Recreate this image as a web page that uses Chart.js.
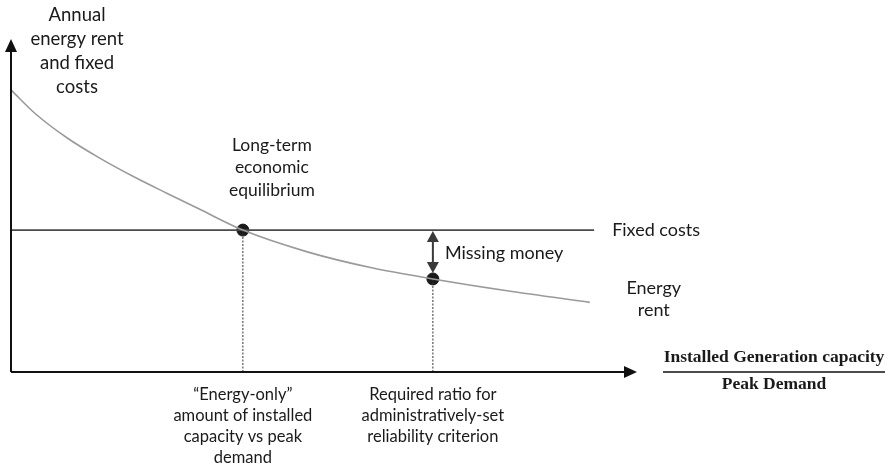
<!DOCTYPE html>
<html>
<head>
<meta charset="utf-8">
<script src="https://cdn.jsdelivr.net/npm/chart.js@4"></script>
<style>
  body { margin: 0; background: #fff; }
  #wrap { width: 889px; height: 464px; }
</style>
</head>
<body>
<div id="wrap"><canvas id="grafico" width="889" height="464"></canvas></div>
<script>
// curva de renta de energia (escala 0-100)
const rentaX = [0, 4, 9, 14.2, 19.5, 25, 30.2, 37.1, 47.4, 57.9, 67.5, 79.4, 92.6];
const rentaY = [85.5, 78.1, 70.9, 64.8, 59.3, 54.1, 49.3, 43, 36.4, 31.5, 28.2, 24.6, 21.1];
// costos fijos: nivel horizontal y largo
const costoFijo = 43;
const costoFijoFin = 93.3;
// puntos marcados
const equilibrioX = 37.1;
const confiabilidadX = 67.5;
const confiabilidadY = 28.2;

const etiquetaEjeY = ['Annual', 'energy rent', 'and fixed', 'costs'];
const etiquetaEquilibrio = ['Long-term', 'economic', 'equilibrium'];
const etiquetaEnergyOnly = ['\u201cEnergy-only\u201d', 'amount of installed', 'capacity vs peak', 'demand'];
const etiquetaRequerido = ['Required ratio for', 'administratively-set', 'reliability criterion'];
const etiquetaRenta = ['Energy', 'rent'];
const etiquetaFijo = 'Fixed costs';
const etiquetaFaltante = 'Missing money';
const etiquetaEjeXArriba = 'Installed Generation capacity';
const etiquetaEjeXAbajo = 'Peak Demand';

const fuente = px => px + 'px Lato, "Open Sans", sans-serif';
const COLOR_TEXTO = '#1a1a1a';

function lineas(ctx, textos, x, y, alto) {
    textos.forEach((t, i) => ctx.fillText(t, x, y + i * alto));
}

function flecha(ctx, x, y, dir, largo, ancho) {
    // punta de flecha rellena; dir: 'up' | 'down' | 'right'
    ctx.beginPath();
    if (dir === 'up') {
        ctx.moveTo(x, y); ctx.lineTo(x - ancho, y + largo); ctx.lineTo(x + ancho, y + largo);
    } else if (dir === 'down') {
        ctx.moveTo(x, y); ctx.lineTo(x - ancho, y - largo); ctx.lineTo(x + ancho, y - largo);
    } else {
        ctx.moveTo(x, y); ctx.lineTo(x - largo, y - ancho); ctx.lineTo(x - largo, y + ancho);
    }
    ctx.closePath();
    ctx.fill();
}

const decoracion = {
    id: 'decoracion',
    afterDatasetsDraw(chart) {
        const ctx = chart.ctx;
        const sx = chart.scales.x;
        const sy = chart.scales.y;
        const x0 = sx.getPixelForValue(0);
        const y0 = sy.getPixelForValue(0);
        const xFin = sx.getPixelForValue(100);
        const yFin = sy.getPixelForValue(100);
        ctx.save();

        // ejes con flechas
        ctx.strokeStyle = '#111';
        ctx.fillStyle = '#111';
        ctx.lineWidth = 2;
        ctx.beginPath();
        ctx.moveTo(x0, y0);
        ctx.lineTo(x0, yFin + 8);
        ctx.moveTo(x0, y0);
        ctx.lineTo(xFin - 8, y0);
        ctx.stroke();
        flecha(ctx, x0, yFin - 3, 'up', 13, 6);
        flecha(ctx, xFin + 1, y0, 'right', 13, 6);

        // flecha doble de missing money
        const xm = sx.getPixelForValue(confiabilidadX);
        const yTop = sy.getPixelForValue(costoFijo);
        const yBot = sy.getPixelForValue(confiabilidadY);
        ctx.strokeStyle = '#3a3a3a';
        ctx.fillStyle = '#3a3a3a';
        ctx.lineWidth = 2;
        ctx.beginPath();
        ctx.moveTo(xm, yTop + 10);
        ctx.lineTo(xm, yBot - 14);
        ctx.stroke();
        flecha(ctx, xm, yTop + 1, 'up', 11, 6);
        flecha(ctx, xm, yBot - 6, 'down', 11, 6);

        // textos
        ctx.fillStyle = COLOR_TEXTO;
        ctx.textBaseline = 'middle';
        ctx.textAlign = 'center';
        ctx.font = fuente(18.5);
        lineas(ctx, etiquetaEjeY, x0 + 66, 15, 24);
        const xe = sx.getPixelForValue(equilibrioX);
        ctx.font = fuente(17.5);
        lineas(ctx, etiquetaEquilibrio, xe + 29, yTop - 85, 22.5);
        ctx.font = fuente(16.5);
        lineas(ctx, etiquetaEnergyOnly, xe, y0 + 23, 21);
        lineas(ctx, etiquetaRequerido, xm, y0 + 23, 21);
        const xr = sx.getPixelForValue(rentaX[rentaX.length - 1]);
        ctx.font = fuente(18);
        lineas(ctx, etiquetaRenta, xr + 64, sy.getPixelForValue(rentaY[rentaY.length - 1]) - 14, 22);
        ctx.textAlign = 'left';
        ctx.fillText(etiquetaFijo, sx.getPixelForValue(costoFijoFin) + 18, yTop);
        ctx.fillText(etiquetaFaltante, xm + 12, (yTop + yBot) / 2 - 1);

        // etiqueta del eje x como fraccion
        ctx.textAlign = 'center';
        ctx.font = 'bold 17.5px "Liberation Serif", serif';
        const xc = xFin + 138;
        ctx.fillText(etiquetaEjeXArriba, xc, y0 - 15);
        ctx.fillText(etiquetaEjeXAbajo, xc, y0 + 12);
        ctx.strokeStyle = '#111';
        ctx.lineWidth = 1.5;
        ctx.beginPath();
        ctx.moveTo(xc - 111, y0);
        ctx.lineTo(xc + 111, y0);
        ctx.stroke();
        ctx.restore();
    }
};

const puntos = (xs, ys) => xs.map((x, i) => ({ x: x, y: ys[i] }));

new Chart(document.getElementById('grafico'), {
    type: 'scatter',
    data: {
        datasets: [
            {
                label: 'Energy rent',
                data: puntos(rentaX, rentaY),
                showLine: true,
                borderColor: '#9a9a9a',
                borderWidth: 1.6,
                pointRadius: 0,
                cubicInterpolationMode: 'monotone',
                clip: false
            },
            {
                label: 'Fixed costs',
                data: puntos([0, costoFijoFin], [costoFijo, costoFijo]),
                showLine: true,
                borderColor: '#4a4a4a',
                borderWidth: 1.6,
                pointRadius: 0
            },
            {
                label: 'guia equilibrio',
                data: puntos([equilibrioX, equilibrioX], [0, costoFijo]),
                showLine: true,
                borderColor: '#333',
                borderWidth: 1,
                borderDash: [2, 1.5],
                pointRadius: 0
            },
            {
                label: 'guia confiabilidad',
                data: puntos([confiabilidadX, confiabilidadX], [0, confiabilidadY]),
                showLine: true,
                borderColor: '#333',
                borderWidth: 1,
                borderDash: [2, 1.5],
                pointRadius: 0
            },
            {
                label: 'puntos',
                data: puntos([equilibrioX, confiabilidadX], [costoFijo, confiabilidadY]),
                pointRadius: 6,
                pointBackgroundColor: '#1a1a1a',
                pointBorderColor: '#1a1a1a'
            }
        ]
    },
    options: {
        responsive: false,
        animation: false,
        layout: { padding: { left: 11, right: 253, top: 42, bottom: 92 } },
        scales: {
            x: { type: 'linear', min: 0, max: 100, display: false },
            y: { type: 'linear', min: 0, max: 100, display: false }
        },
        plugins: {
            legend: { display: false },
            tooltip: { enabled: false }
        }
    },
    plugins: [decoracion]
});
</script>
</body>
</html>
